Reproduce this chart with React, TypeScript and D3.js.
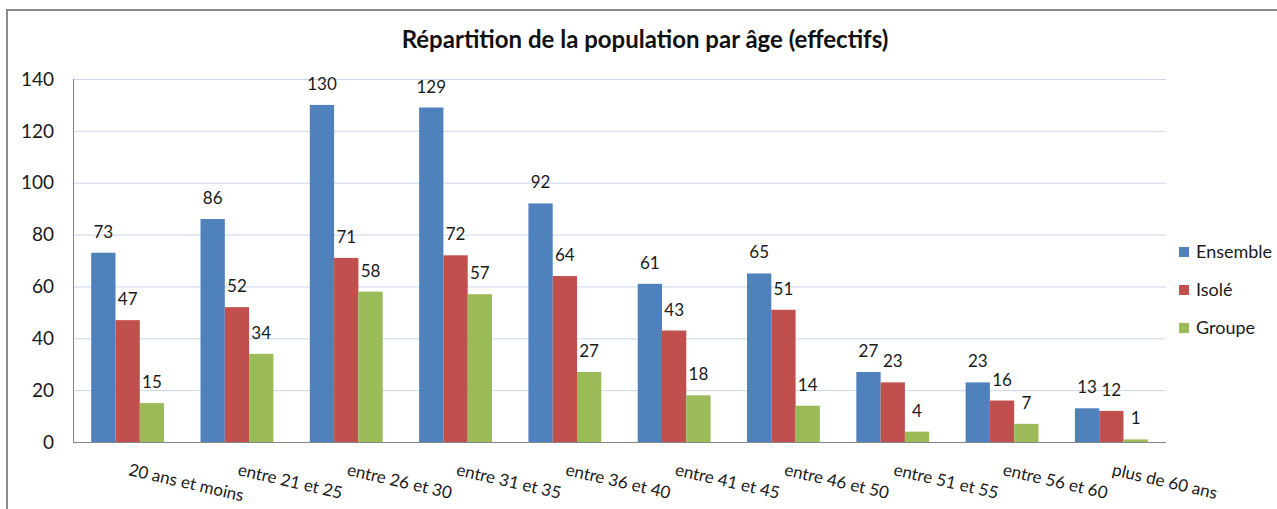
import { useEffect, useRef } from "react"
import * as d3 from "d3"

const categories = [
  "20 ans et moins",
  "entre 21 et 25",
  "entre 26 et 30",
  "entre 31 et 35",
  "entre 36 et 40",
  "entre 41 et 45",
  "entre 46 et 50",
  "entre 51 et 55",
  "entre 56 et 60",
  "plus de 60 ans",
]
const seriesNames = ["Ensemble", "Isolé", "Groupe"]
const ensemble = [73, 86, 130, 129, 92, 61, 65, 27, 23, 13]
const isole = [47, 52, 71, 72, 64, 43, 51, 23, 16, 12]
const groupe = [15, 34, 58, 57, 27, 18, 14, 4, 7, 1]
const yTicks = [0, 20, 40, 60, 80, 100, 120, 140]
const colors = ["#4f81bd", "#c0504d", "#9bbb59"]

const W = 1277
const H = 509
const FONT = "Lato, 'Open Sans', sans-serif"

export default function App() {
  const svgRef = useRef<SVGSVGElement>(null)

  useEffect(() => {
    if (!svgRef.current) return
    const svg = d3.select(svgRef.current)
    svg.selectAll("*").remove()

    const left = 73
    const right = 1166
    const top = 79
    const bottom = 442
    const values = [ensemble, isole, groupe]

    const x0 = d3.scaleBand<string>().domain(categories).range([left, right])
    const x1 = d3
      .scaleBand<string>()
      .domain(seriesNames)
      .range([0, x0.bandwidth()])
      .paddingInner(0)
      .paddingOuter(0.75)
    const y = d3.scaleLinear().domain([0, 140]).range([bottom, top])

    // chart border
    svg
      .append("rect")
      .attr("x", 7)
      .attr("y", 10)
      .attr("width", W + 20)
      .attr("height", H + 20)
      .attr("fill", "#fff")
      .attr("stroke", "#8c8c8c")
      .attr("stroke-width", 2)

    // gridlines
    svg
      .append("g")
      .selectAll("line")
      .data(yTicks.filter((t) => t > 0))
      .join("line")
      .attr("x1", left)
      .attr("x2", right)
      .attr("y1", (d) => y(d) + 0.5)
      .attr("y2", (d) => y(d) + 0.5)
      .attr("stroke", "#c9d8ec")
      .attr("stroke-width", 1)

    // y tick labels
    svg
      .append("g")
      .selectAll("text")
      .data(yTicks)
      .join("text")
      .attr("x", 54)
      .attr("y", (d) => y(d))
      .attr("dy", "0.35em")
      .attr("text-anchor", "end")
      .attr("font-family", FONT)
      .attr("font-size", 19)
      .attr("fill", "#1a1a1a")
      .text((d) => d)

    // bars
    const groups = svg
      .append("g")
      .selectAll("g")
      .data(categories)
      .join("g")
      .attr("transform", (d) => `translate(${x0(d)},0)`)

    seriesNames.forEach((s, si) => {
      groups
        .append("rect")
        .attr("x", x1(s)!)
        .attr("width", x1.bandwidth())
        .attr("y", (_, i) => y(values[si][i]))
        .attr("height", (_, i) => bottom - y(values[si][i]))
        .attr("fill", colors[si])

      groups
        .append("text")
        .attr("x", x1(s)! + x1.bandwidth() / 2)
        .attr("y", (_, i) => y(values[si][i]) - 15)
        .attr("text-anchor", "middle")
        .attr("font-family", FONT)
        .attr("font-size", 17)
        .attr("fill", "#1a1a1a")
        .text((_, i) => values[si][i])
    })

    // axes lines
    svg
      .append("line")
      .attr("x1", left + 0.5)
      .attr("x2", left + 0.5)
      .attr("y1", top)
      .attr("y2", bottom)
      .attr("stroke", "#868686")
    svg
      .append("line")
      .attr("x1", left)
      .attr("x2", right)
      .attr("y1", bottom + 0.5)
      .attr("y2", bottom + 0.5)
      .attr("stroke", "#868686")

    // x labels
    svg
      .append("g")
      .selectAll("text")
      .data(categories)
      .join("text")
      .attr("transform", (d) => `translate(${x0(d)! + x0.bandwidth() / 2},475) rotate(13)`)
      .attr("font-family", FONT)
      .attr("font-size", 17)
      .attr("fill", "#1a1a1a")
      .text((d) => d)

    // title
    svg
      .append("text")
      .attr("x", 645)
      .attr("y", 48)
      .attr("text-anchor", "middle")
      .attr("font-family", FONT)
      .attr("font-size", 24)
      .attr("font-weight", "bold")
      .attr("fill", "#111")
      .text("Répartition de la population par âge (effectifs)")

    // legend
    const legend = svg
      .append("g")
      .selectAll("g")
      .data(seriesNames)
      .join("g")
      .attr("transform", (_, i) => `translate(1179,${247 + i * 38})`)
    legend
      .append("rect")
      .attr("width", 10)
      .attr("height", 10)
      .attr("fill", (_, i) => colors[i])
    legend
      .append("text")
      .attr("x", 17)
      .attr("y", 5)
      .attr("dy", "0.35em")
      .attr("font-family", FONT)
      .attr("font-size", 18)
      .attr("fill", "#1a1a1a")
      .text((d) => d)
  }, [])

  return (
    <svg
      ref={svgRef}
      width={W}
      height={H}
      style={{ position: "absolute", left: 0, top: 0, background: "#fff" }}
    />
  )
}
